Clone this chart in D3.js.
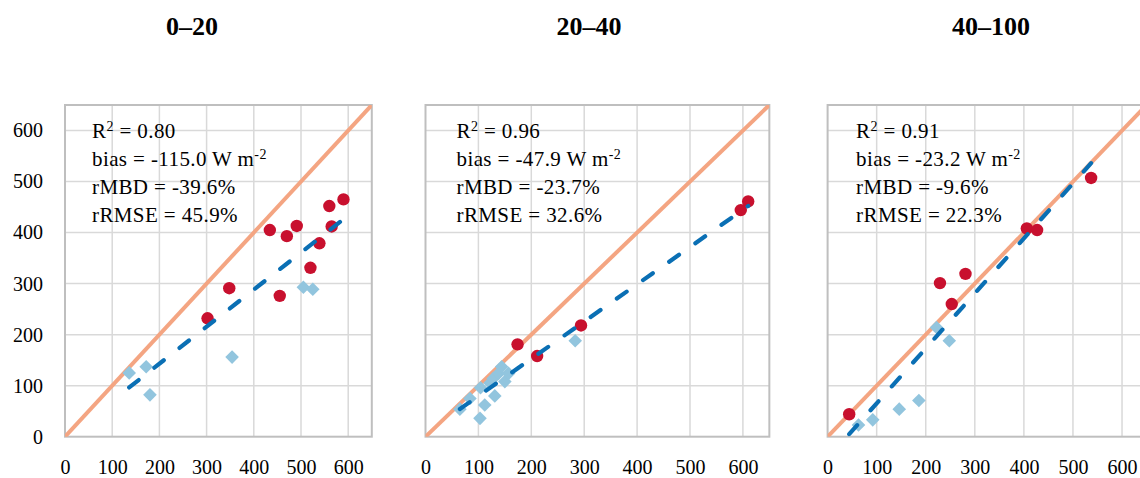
<!DOCTYPE html>
<html>
<head>
<meta charset="utf-8">
<script src="https://cdn.jsdelivr.net/npm/d3@7/dist/d3.min.js"></script>
<style>
  html, body { margin: 0; padding: 0; background: #fff; }
  svg { display: block; }
  text { font-family: "Liberation Serif", "DejaVu Serif", "Noto Serif", serif; fill: #000; }
</style>
</head>
<body>
<svg id="chart" width="1140" height="478"></svg>
<script>
// Soil depth classes (cm)
const depthTitles = ["0–20", "20–40", "40–100"];

// Axis ticks shared by all panels (W m-2)
const tickValues = [0, 100, 200, 300, 400, 500, 600];
const axisMax = 650;

// Observed vs. modelled points, first group (red circles) [observed, modelled]
const circles0_20 = [[302, 232], [348, 291], [434, 405], [470, 393], [491, 413], [455, 276],
                     [520, 331], [539, 379], [560, 452], [565, 412], [590, 465]];
const circles20_40 = [[174, 181], [211, 158], [294, 218], [596, 444], [610, 461]];
const circles40_100 = [[44, 44], [229, 301], [281, 319], [253, 260], [406, 408], [427, 405], [537, 507]];

// Second group (light blue diamonds)
const diamonds0_20 = [[136, 125], [172, 137], [180, 82], [354, 156], [505, 293], [525, 289]];
const diamonds20_40 = [[65, 54], [84, 75], [103, 36], [104, 96], [112, 62], [122, 105], [128, 114],
                       [131, 80], [138, 124], [144, 137], [150, 108], [157, 124], [283, 188]];
const diamonds40_100 = [[63, 23], [92, 33], [146, 54], [186, 71], [222, 214], [248, 188]];

// Linear fit of each panel: [slope, intercept]
const fitLines = [[0.726, -2.2], [0.730, 6.7], [1.077, -42.3]];

// Goodness-of-fit statistics
const statR2 = ["0.80", "0.96", "0.91"];
const statBias = ["-115.0", "-47.9", "-23.2"];
const statRMBD = ["-39.6%", "-23.7%", "-9.6%"];
const statRRMSE = ["45.9%", "32.6%", "22.3%"];

const circleSets = [circles0_20, circles20_40, circles40_100];
const diamondSets = [diamonds0_20, diamonds20_40, diamonds40_100];

// Panel placement
const panelLeft = [65, 425.5, 827.6];
const panelUnit = [47.2, 52.9, 49.07]; // pixels per 100 W m-2 on the x axis
const plotTop = 105, plotBottom = 436.7;
const titleX = [192, 589, 991];
const statsOffset = [27, 31, 28.5];
const serif = "'Liberation Serif', 'DejaVu Serif', 'Noto Serif', serif";

const colors = {
  oneToOne: "#F4A582",
  circle: "#C8102E",
  diamond: "#92C5DE",
  fit: "#0A6FB4",
  grid: "#D9D9D9",
  frame: "#BFBFBF"
};

const svg = d3.select("#chart");

const y = d3.scaleLinear().domain([0, axisMax]).range([plotBottom, plotTop]);

depthTitles.forEach((title, i) => {
  const left = panelLeft[i];
  const right = left + panelUnit[i] * axisMax / 100;
  const x = d3.scaleLinear().domain([0, axisMax]).range([left, right]);
  const g = svg.append("g");

  // Panel title
  g.append("text")
    .attr("x", titleX[i]).attr("y", 35)
    .attr("text-anchor", "middle")
    .style("font-family", serif)
    .style("font-size", "26px").style("font-weight", "bold")
    .text(title);

  // Gridlines
  const inner = tickValues.filter(v => v > 0);
  g.selectAll(".gx").data(inner).join("line")
    .attr("x1", d => x(d)).attr("x2", d => x(d))
    .attr("y1", y(0)).attr("y2", y(axisMax))
    .attr("stroke", colors.grid).attr("stroke-width", 1.5);
  g.selectAll(".gy").data(inner).join("line")
    .attr("x1", x(0)).attr("x2", x(axisMax))
    .attr("y1", d => y(d)).attr("y2", d => y(d))
    .attr("stroke", colors.grid).attr("stroke-width", 1.5);

  // Plot frame
  g.append("rect")
    .attr("x", x(0)).attr("y", y(axisMax))
    .attr("width", x(axisMax) - x(0)).attr("height", y(0) - y(axisMax))
    .attr("fill", "none").attr("stroke", colors.frame).attr("stroke-width", 2);

  // X axis labels
  const xAxis = d3.axisBottom(x).tickValues(tickValues).tickSize(0).tickPadding(0).tickFormat(d3.format("d"));
  const xa = g.append("g").attr("transform", "translate(0,474)").call(xAxis)
    .attr("font-family", null).attr("font-size", null);
  xa.select(".domain").remove();
  xa.selectAll("text").attr("dy", null).attr("y", 0)
    .style("font-size", "20px").style("font-family", serif);

  // Y axis labels only on the first panel
  if (i === 0) {
    const yAxis = d3.axisLeft(y).tickValues(tickValues).tickSize(0).tickPadding(0).tickFormat(d3.format("d"));
    const ya = g.append("g").attr("transform", `translate(${left - 22},0)`).call(yAxis)
      .attr("font-family", null).attr("font-size", null);
    ya.select(".domain").remove();
    ya.selectAll("text").style("font-size", "20px").style("font-family", serif);
  }

  const clipId = "clip" + i;
  svg.append("clipPath").attr("id", clipId).append("rect")
    .attr("x", x(0)).attr("y", y(axisMax))
    .attr("width", x(axisMax) - x(0)).attr("height", y(0) - y(axisMax));
  const plot = g.append("g").attr("clip-path", `url(#${clipId})`);

  // 1:1 line
  plot.append("line")
    .attr("x1", x(0)).attr("y1", y(0)).attr("x2", x(axisMax)).attr("y2", y(axisMax))
    .attr("stroke", colors.oneToOne).attr("stroke-width", 4);

  // Diamonds
  const dSize = 6.8;
  plot.selectAll(".dia").data(diamondSets[i]).join("path")
    .attr("transform", d => `translate(${x(d[0])},${y(d[1])})`)
    .attr("d", `M0,${-dSize}L${dSize},0L0,${dSize}L${-dSize},0Z`)
    .attr("fill", colors.diamond);

  // Circles
  plot.selectAll(".cir").data(circleSets[i]).join("circle")
    .attr("cx", d => x(d[0])).attr("cy", d => y(d[1])).attr("r", 6.2)
    .attr("fill", colors.circle);

  // Linear fit over the range of the data
  const allX = circleSets[i].concat(diamondSets[i]).map(d => d[0]);
  const [x0, x1] = d3.extent(allX);
  const [m, b] = fitLines[i];
  plot.append("line")
    .attr("x1", x(x0)).attr("y1", y(m * x0 + b))
    .attr("x2", x(x1)).attr("y2", y(m * x1 + b))
    .attr("stroke", colors.fit).attr("stroke-width", 4.2)
    .attr("stroke-linecap", "round")
    .attr("stroke-dasharray", "12,20");

  // Statistics block
  const tx = left + statsOffset[i];
  const stats = g.append("g").style("font-size", "21px").style("font-family", serif)
    .style("letter-spacing", "0.4px");
  const l1 = stats.append("text").attr("x", tx).attr("y", 138);
  l1.append("tspan").text("R");
  l1.append("tspan").attr("baseline-shift", "super").style("font-size", "14px").text("2");
  l1.append("tspan").text(" = " + statR2[i]);
  const l2 = stats.append("text").attr("x", tx).attr("y", 166);
  l2.append("tspan").text("bias = " + statBias[i] + " W m");
  l2.append("tspan").attr("baseline-shift", "super").style("font-size", "14px").text("-2");
  stats.append("text").attr("x", tx).attr("y", 193.5).text("rMBD = " + statRMBD[i]);
  stats.append("text").attr("x", tx).attr("y", 221.5).text("rRMSE = " + statRRMSE[i]);
});
</script>
</body>
</html>
